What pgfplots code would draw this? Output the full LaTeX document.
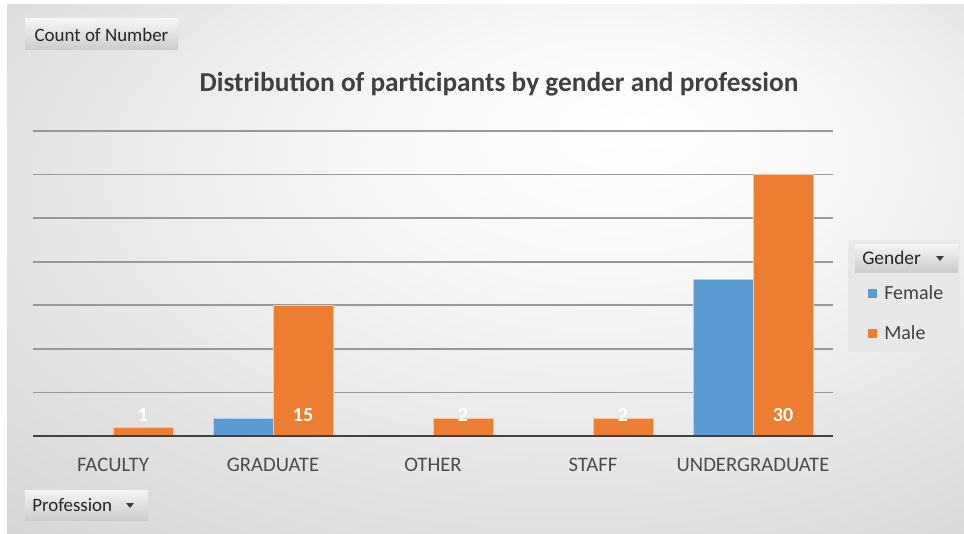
\documentclass[border=0pt]{standalone}
\usepackage{pgfplots}
\pgfplotsset{compat=1.18}
\usepackage{fontspec}
\setmainfont{Carlito}
\definecolor{fem}{HTML}{5B9BD5}
\definecolor{mal}{HTML}{ED7D31}
\definecolor{txt}{HTML}{404040}
\pgfdeclareradialshading{bgshade}{\pgfpoint{8bp}{14bp}}{color(0bp)=(white); color(12bp)=(white!97!black); color(40bp)=(white!84!black); color(60bp)=(white!77!black)}
\begin{document}
\begin{tikzpicture}[x=0.75pt,y=0.75pt]
\fill[white] (0,0) rectangle (964,533);
\shade[shading=bgshade] (7,0) rectangle (964,528);
% title
\node[font=\bfseries\fontsize{20.5}{23}\selectfont, text=txt] at (499,449) {Distribution of participants by gender and profession};
% Count of Number button
\shade[top color=white!96!black, bottom color=white!80!black] (25,514) rectangle (178,483);
\node[font=\fontsize{14.2}{16}\selectfont, text=black!85] at (101.5,498) {Count of Number};
% Profession button
\shade[top color=white!96!black, bottom color=white!80!black] (25,43) rectangle (148,13);
\node[font=\fontsize{14.2}{16}\selectfont, text=black!85, anchor=west, inner sep=0] at (32,28) {Profession};
\fill[black!75] (126,30) -- (134,30) -- (130,25) -- cycle;
% legend
\fill[white!91!black] (848,293) rectangle (960,181);
\shade[top color=white!96!black, bottom color=white!80!black] (855,289) rectangle (958,261);
\node[font=\fontsize{14.5}{16}\selectfont, text=black!85, anchor=west, inner sep=0] at (862,275) {Gender};
\fill[black!75] (936,277) -- (944,277) -- (940,272) -- cycle;
\fill[fem] (868,244) rectangle (877,235);
\node[font=\fontsize{15}{16}\selectfont, text=txt, anchor=west, inner sep=0] at (884,240) {Female};
\fill[mal] (868,204) rectangle (877,195);
\node[font=\fontsize{15}{16}\selectfont, text=txt, anchor=west, inner sep=0] at (884,200) {Male};
\begin{axis}[
  at={(24.75pt,72.75pt)}, anchor=south west,
  width=600pt, height=228.75pt, scale only axis,
  xmin=-0.5, xmax=4.5, ymin=0, ymax=35,
  axis line style={draw=none},
  ytick={5,10,...,35}, yticklabels={}, ytick style={draw=none},
  ymajorgrids, grid style={black!40, line width=1.2pt},
  xtick={0,...,4},
  xticklabels={FACULTY,GRADUATE,OTHER,STAFF,UNDERGRADUATE},
  xtick style={draw=none},
  xticklabel style={font=\fontsize{15.5}{18}\selectfont, text=black!70, yshift=-13pt},
  clip=false,
]
\addplot[ybar, bar width=0.375, bar shift=-0.1875, fill=fem, draw=white!55!fem, line width=0.6pt]
  coordinates {(1,2) (4,18)};
\addplot[ybar, bar width=0.375, bar shift=0.1875, fill=mal, draw=white!55!mal, line width=0.6pt]
  coordinates {(0,1) (1,15) (2,2) (3,2) (4,30)};
\addplot[draw=none, mark=none, nodes near coords, point meta=explicit symbolic,
  every node near coord/.append style={font=\bfseries\fontsize{15}{17}\selectfont, text=white, anchor=center}]
  coordinates {(0.1875,2.4)[1] (1.1875,2.4)[15] (2.1875,2.4)[2] (3.1875,2.4)[2] (4.1875,2.4)[30]};
\draw[line width=2.2pt, color=black!75] (axis cs:-0.5,0) -- (axis cs:4.5,0);
\end{axis}
\end{tikzpicture}
\end{document}
